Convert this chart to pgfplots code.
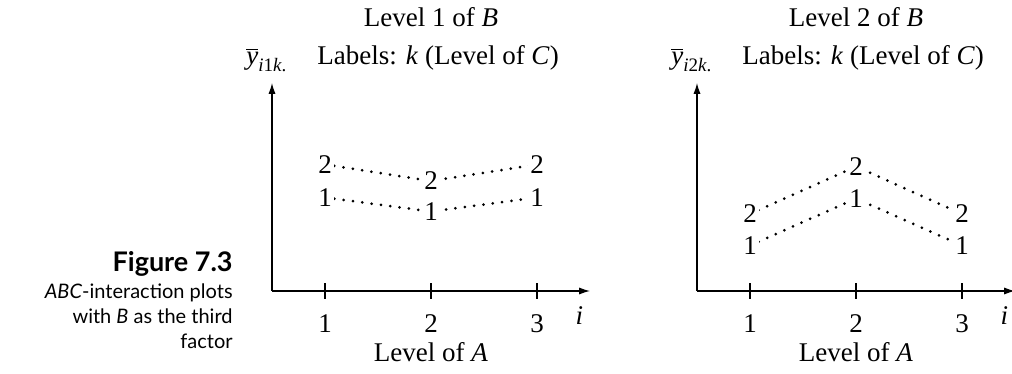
\documentclass[border=0pt]{standalone}
\usepackage{fontspec}
\setmainfont{Liberation Serif}
\newfontfamily\capfont{Lato}
\usepackage{pgfplots}
\pgfplotsset{compat=1.18}
\usetikzlibrary{arrows.meta}

\newcommand\fs{\fontsize{13.5}{16}\selectfont}
\newcommand\fsub{\fontsize{9.5}{11}\selectfont}
\newcommand\ybar[1]{$\overline{\hbox{\textit{y}}}_{\hbox{\fsub\textit{i}#1\textit{k}.}}$}
\newcommand\rmnum[1]{\hbox{\rmfamily\fs #1}}

\pgfplotsset{
  abcplot/.style={
    x=53pt, y=5pt,
    xmin=0.5, xmax=3.5, ymin=0, ymax=20.8,
    enlargelimits=false,
    axis lines=left,
    axis line style={line width=0.6pt, -{Latex[length=5.5pt,width=3.6pt]}},
    xtick={1,2,3}, xticklabels={\rmnum{1},\rmnum{2},\rmnum{3}},
    ytick=\empty,
    xtick align=center,
    major tick length=8pt,
    tick style={line width=0.6pt, black},
    xticklabel style={font=\fs, anchor=base, yshift=-16.5pt},
    clip=false,
    anchor=south west,
  },
  levelline/.style={
    black, line width=1.5pt, line cap=round, dash pattern=on 0pt off 4.7pt,
    mark=text, text mark={\rmnum{#1}}, text mark as node=true,
    mark options={solid},
    text mark style={font=\fs, fill=white, inner sep=1.2pt},
  },
}

\begin{document}
\begin{tikzpicture}[font=\fs]
\useasboundingbox (0,0) rectangle (506pt,187pt);

% caption
\begin{scope}[every node/.style={inner sep=0, anchor=base east}]
  \node[font=\capfont\fontsize{13.5}{15}\selectfont\bfseries] at (116.5pt,51pt) {Figure 7.3};
  \node[font=\capfont\fontsize{10}{12}\selectfont] at (116.5pt,37.5pt) {\textit{ABC}-interaction plots};
  \node[font=\capfont\fontsize{10}{12}\selectfont] at (116.5pt,25pt) {with \textit{B} as the third};
  \node[font=\capfont\fontsize{10}{12}\selectfont] at (116.5pt,12.5pt) {factor};
\end{scope}

% Level 1 of B
\begin{axis}[abcplot, at={(136pt,41.5pt)}]
  \addplot[levelline=2] coordinates {(1,12.65) (2,11.0) (3,12.65)};
  \addplot[levelline=1] coordinates {(1,9.35) (2,7.95) (3,9.35)};
  \node[anchor=base, inner sep=0] at (axis cs:2,26.4) {Level 1 of \textit{B}};
  \node[anchor=base west, inner sep=0] at (axis cs:0.925,22.6) {Labels: \textit{k} (Level of \textit{C})};
  \node[anchor=base west, inner sep=0] at (axis cs:0.255,22.6) {\ybar{1}};
  \node[anchor=base, inner sep=0, yshift=-16.5pt] at (axis cs:3.4,0) {\textit{i}};
  \node[anchor=base, inner sep=0, yshift=-35pt] at (axis cs:2,0) {Level of \textit{A}};
\end{axis}

% Level 2 of B
\begin{axis}[abcplot, at={(348.5pt,41.5pt)}]
  \addplot[levelline=2] coordinates {(1,7.7) (2,12.45) (3,7.7)};
  \addplot[levelline=1] coordinates {(1,4.55) (2,9.25) (3,4.55)};
  \node[anchor=base, inner sep=0] at (axis cs:2,26.4) {Level 2 of \textit{B}};
  \node[anchor=base west, inner sep=0] at (axis cs:0.925,22.6) {Labels: \textit{k} (Level of \textit{C})};
  \node[anchor=base west, inner sep=0] at (axis cs:0.255,22.6) {\ybar{2}};
  \node[anchor=base, inner sep=0, yshift=-16.5pt] at (axis cs:3.4,0) {\textit{i}};
  \node[anchor=base, inner sep=0, yshift=-35pt] at (axis cs:2,0) {Level of \textit{A}};
\end{axis}
\end{tikzpicture}
\end{document}
